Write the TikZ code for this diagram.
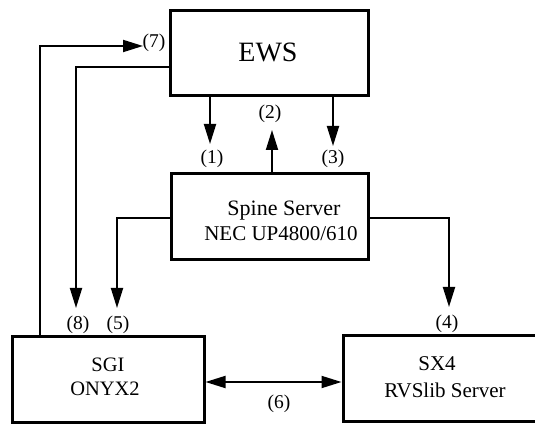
\documentclass[tikz,border=0pt]{standalone}
\usepackage{fontspec}
\setmainfont{Liberation Serif}
\usetikzlibrary{arrows.meta}
\begin{document}
\begin{tikzpicture}[x=1pt,y=1pt,
  box/.style={draw, line width=3pt, inner sep=0pt},
  tip/.style={Triangle[length=20pt,width=12pt]},
  conn/.style={line width=1.9pt, -{Triangle[length=20pt,width=12pt]}},
  lbl/.style={font=\fontsize{19.5}{22}\selectfont, inner sep=0pt},
  txt/.style={inner sep=0pt}]
\useasboundingbox (0,0) rectangle (535,425);
% boxes
\node[box, minimum width=198pt, minimum height=85pt] (ews) at (269,371.5) {};
\node[box, minimum width=197pt, minimum height=86pt] (spine) at (269.5,208) {};
\node[box, minimum width=192pt, minimum height=86pt] (sgi) at (108,45) {};
\node[box, minimum width=257pt, minimum height=86pt] (sx4) at (471.5,46) {};
% texts
\node[txt, font=\fontsize{28}{30}\selectfont] (tews) at (268,373) {EWS};
\node[txt, font=\fontsize{22}{24}\selectfont] (tsp1) at (284,214) {Spine Server};
\node[txt, font=\fontsize{21}{24}\selectfont] (tsp2) at (281,191) {NEC UP4800/610};
\node[txt, font=\fontsize{20.5}{24}\selectfont] (tsg1) at (108,60) {SGI};
\node[txt, font=\fontsize{20.5}{24}\selectfont] (tsg2) at (105,36) {ONYX2};
\node[txt, font=\fontsize{21}{24}\selectfont] (tsx1) at (437,61) {SX4};
\node[txt, font=\fontsize{21}{24}\selectfont] (tsx2) at (445,35) {RVSlib Server};
% labels
\node[lbl] (l1) at (212,266) {(1)};
\node[lbl] (l2) at (270,311) {(2)};
\node[lbl] (l3) at (333,266) {(3)};
\node[lbl] (l4) at (447,101) {(4)};
\node[lbl] (l5) at (118,100) {(5)};
\node[lbl] (l6) at (279,21) {(6)};
\node[lbl] (l7) at (154,382) {(7)};
\node[lbl] (l8) at (78,100) {(8)};
% helper coordinates
\coordinate (c7) at (40,0);
\coordinate (t7) at (143,379);
\coordinate (c8) at (0,358);
\coordinate (t8) at (76,117);
\coordinate (c5) at (0,207);
\coordinate (t5) at (117,117);
\coordinate (t4) at (449,118);
\coordinate (t1) at (210,281);
\coordinate (t2) at (272,295);
\coordinate (t3) at (333,279);
\coordinate (c6) at (0,43);
% connectors
\draw[conn] (sgi.north -| c7) |- (t7);
\draw[conn] (ews.west |- c8) -| (t8);
\draw[conn] (spine.west |- c5) -| (t5);
\draw[conn] (spine.east |- c5) -| (t4);
\draw[conn] (ews.south -| t1) -- (t1);
\draw[conn] (spine.north -| t2) -- (t2);
\draw[conn] (ews.south -| t3) -- (t3);
\draw[line width=1.9pt, {Triangle[length=20pt,width=12pt]}-{Triangle[length=20pt,width=12pt]}] (sgi.east |- c6) -- (sx4.west |- c6);
\end{tikzpicture}
\end{document}
